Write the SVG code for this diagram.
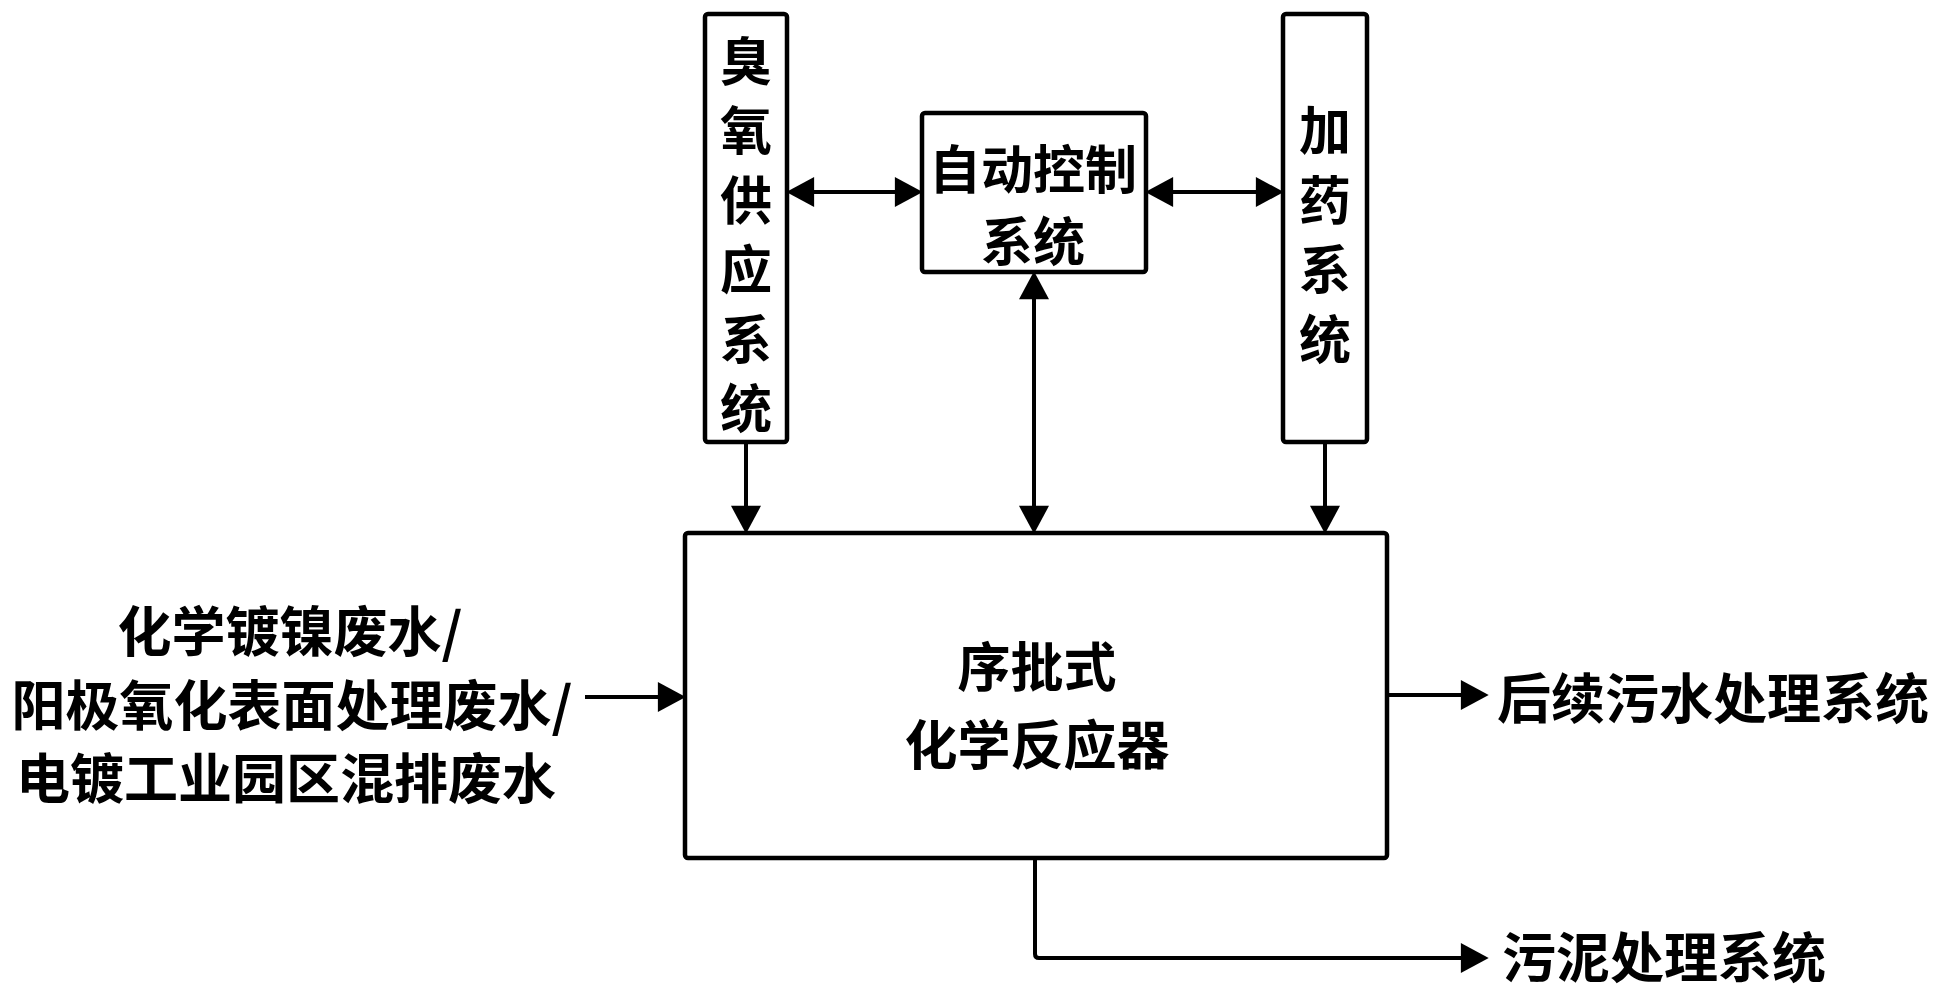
<svg xmlns="http://www.w3.org/2000/svg" width="1941" height="991" viewBox="0 0 1941 991">
<style>
.box{fill:#fff;stroke:#000;stroke-width:4.5}
.ln{fill:none;stroke:#000;stroke-width:4}
.t{font-family:"Noto Sans CJK SC","Noto Sans",sans-serif;font-weight:bold;fill:#000;text-anchor:middle;dominant-baseline:central}
</style>
<defs>
<marker id="ah" markerUnits="userSpaceOnUse" markerWidth="30" markerHeight="30" viewBox="0 0 26 28" refX="16" refY="14" orient="auto-start-reverse">
<path d="M0,0 L26,14 L0,28 Z" fill="#000"/>
</marker>
</defs>
<rect width="1941" height="991" fill="#fff"/>
<g id="ozone">
<rect class="box" x="705" y="14" width="82" height="428" rx="3"/>
<text class="t" font-size="52" x="746" y="58">臭</text>
<text class="t" font-size="52" x="746" y="127.5">氧</text>
<text class="t" font-size="52" x="746" y="197">供</text>
<text class="t" font-size="52" x="746" y="266.5">应</text>
<text class="t" font-size="52" x="746" y="336">系</text>
<text class="t" font-size="52" x="746" y="405.5">统</text>
</g>
<g id="control">
<rect class="box" x="922" y="113" width="224" height="159" rx="3"/>
<text class="t" font-size="52" x="1033" y="166">自动控制<tspan x="1033" y="238">系统</tspan></text>
</g>
<g id="dosing">
<rect class="box" x="1283" y="14" width="84" height="428" rx="3"/>
<text class="t" font-size="52" x="1325" y="127">加</text>
<text class="t" font-size="52" x="1325" y="197">药</text>
<text class="t" font-size="52" x="1325" y="266">系</text>
<text class="t" font-size="52" x="1325" y="336">统</text>
</g>
<g id="reactor">
<rect class="box" x="685" y="533" width="702" height="325" rx="3"/>
<text class="t" font-size="53" x="1037" y="664">序批式</text>
<text class="t" font-size="53" x="1037" y="742">化学反应器</text>
</g>
<g id="input">
<text class="t" font-size="54" x="290" y="628">化学镀镍废水/<tspan x="292" y="702">阳极氧化表面处理废水/</tspan><tspan x="286" y="775">电镀工业园区混排废水</tspan></text>
</g>
<g id="output">
<text class="t" font-size="54" x="1713" y="695">后续污水处理系统</text>
</g>
<g id="sludge">
<text class="t" font-size="54" x="1664" y="954">污泥处理系统</text>
</g>
<g id="connectors">
<line class="ln" x1="746" y1="442" x2="746" y2="523" marker-end="url(#ah)"/>
<line class="ln" x1="1034" y1="282" x2="1034" y2="523" marker-start="url(#ah)" marker-end="url(#ah)"/>
<line class="ln" x1="1325" y1="442" x2="1325" y2="523" marker-end="url(#ah)"/>
<line class="ln" x1="797" y1="192" x2="912" y2="192" marker-start="url(#ah)" marker-end="url(#ah)"/>
<line class="ln" x1="1156" y1="192" x2="1273" y2="192" marker-start="url(#ah)" marker-end="url(#ah)"/>
<line class="ln" x1="585" y1="697" x2="675" y2="697" marker-end="url(#ah)"/>
<line class="ln" x1="1387" y1="695" x2="1478" y2="695" marker-end="url(#ah)"/>
<path class="ln" d="M1035,858 V954 Q1035,958 1039,958 H1478" marker-end="url(#ah)"/>
</g>
</svg>
